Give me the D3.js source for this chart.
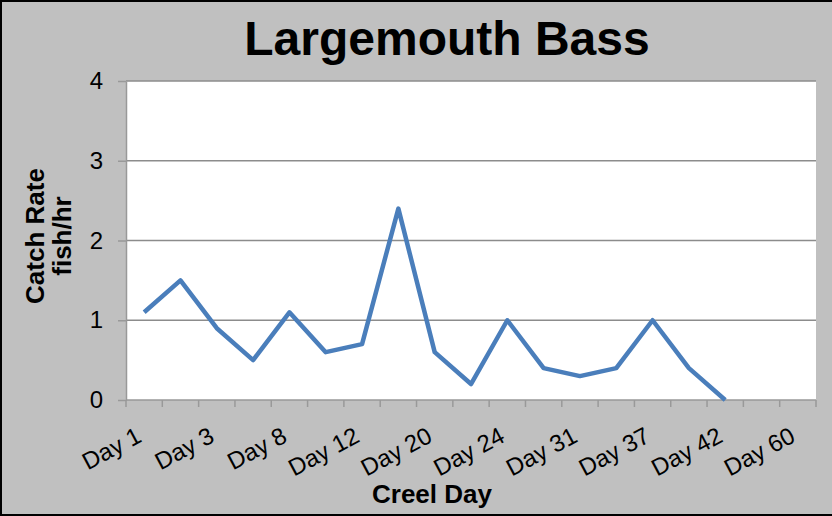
<!DOCTYPE html>
<html><head><meta charset="utf-8">
<script src="https://cdn.jsdelivr.net/npm/d3@7"></script>
<style>body{margin:0;background:#fff}svg{display:block}</style>
</head><body>
<svg id="c" width="832" height="516"></svg>
<script>
const categories = ["Day 1","Day 2","Day 3","Day 5","Day 8","Day 10","Day 12","Day 15","Day 20","Day 22","Day 24","Day 28","Day 31","Day 34","Day 37","Day 40","Day 42","Day 50","Day 60"];
const shownLabels = ["Day 1","Day 3","Day 8","Day 12","Day 20","Day 24","Day 31","Day 37","Day 42","Day 60"];
const catchRate = [1.1,1.5,0.9,0.5,1.1,0.6,0.7,2.4,0.6,0.2,1.0,0.4,0.3,0.4,1.0,0.4,0.0,null,null];
const yTicks = [0,1,2,3,4];

const svg = d3.select("#c");
const W = 832, H = 516;
const m = {left:126, right:816, top:81, bottom:400};
const FF = "Liberation Sans, Arial, sans-serif";

svg.append("rect").attr("x",0).attr("y",0).attr("width",W).attr("height",H).attr("fill","#c0c0c0");
svg.append("path").attr("d",`M${W},1 H1 V${H-1} H${W}`).attr("fill","none").attr("stroke","#000").attr("stroke-width",2);

svg.append("rect").attr("x",m.left).attr("y",m.top).attr("width",m.right-m.left).attr("height",m.bottom-m.top).attr("fill","#fff");

const x = d3.scaleBand().domain(categories).range([m.left,m.right]).padding(0);
const y = d3.scaleLinear().domain([0,4]).range([m.bottom,m.top]);

svg.append("g").selectAll("line").data(yTicks.filter(d=>d>0)).join("line")
  .attr("x1",m.left).attr("x2",m.right).attr("y1",d=>y(d)).attr("y2",d=>y(d))
  .attr("stroke","#8c8c8c").attr("stroke-width",1.5);

const yAxis = svg.append("g").attr("transform",`translate(${m.left},0)`)
  .call(d3.axisLeft(y).tickValues(yTicks).tickFormat(d3.format("d")).tickSize(8).tickPadding(15).tickSizeOuter(0));
yAxis.select(".domain").attr("stroke","#999").attr("stroke-width",1.5);
yAxis.selectAll(".tick line").attr("stroke","#999").attr("stroke-width",1.5);
yAxis.selectAll("text").attr("font-family",FF).attr("font-size",24).attr("fill","#000");

svg.append("line").attr("x1",m.left).attr("x2",m.right).attr("y1",m.bottom).attr("y2",m.bottom).attr("stroke","#999").attr("stroke-width",1.5);
const bounds = categories.map(c=>x(c)).concat([x(categories[categories.length-1])+x.bandwidth()]);
svg.append("g").selectAll("line").data(bounds).join("line")
  .attr("x1",d=>d).attr("x2",d=>d).attr("y1",m.bottom).attr("y2",m.bottom+7)
  .attr("stroke","#999").attr("stroke-width",1.5);

svg.append("g").selectAll("text").data(shownLabels).join("text")
  .attr("transform",d=>`translate(${x(d)+x.bandwidth()/2-1},441) rotate(-28)`)
  .attr("text-anchor","end")
  .attr("font-family",FF).attr("font-size",24).attr("fill","#000")
  .text(d=>d);

const line = d3.line().defined(d=>d.v!=null).x(d=>x(d.c)+x.bandwidth()/2).y(d=>y(d.v));
svg.append("path").datum(categories.map((c,i)=>({c,v:catchRate[i]})))
  .attr("d",line).attr("fill","none").attr("stroke","#4a7ebb").attr("stroke-width",4.5).attr("stroke-linejoin","round");

svg.append("text").attr("x",447).attr("y",55).attr("text-anchor","middle")
  .attr("font-family",FF).attr("font-weight","bold").attr("font-size",48).text("Largemouth Bass");

svg.append("text").attr("x",432).attr("y",503).attr("text-anchor","middle")
  .attr("font-family",FF).attr("font-weight","bold").attr("font-size",26).text("Creel Day");
const yt = svg.append("text").attr("transform","translate(44,236) rotate(-90)").attr("text-anchor","middle")
  .attr("font-family",FF).attr("font-weight","bold").attr("font-size",26);
yt.append("tspan").attr("x",0).attr("y",0).text("Catch Rate");
yt.append("tspan").attr("x",0).attr("y",27).text("fish/hr");
</script>
</body></html>
